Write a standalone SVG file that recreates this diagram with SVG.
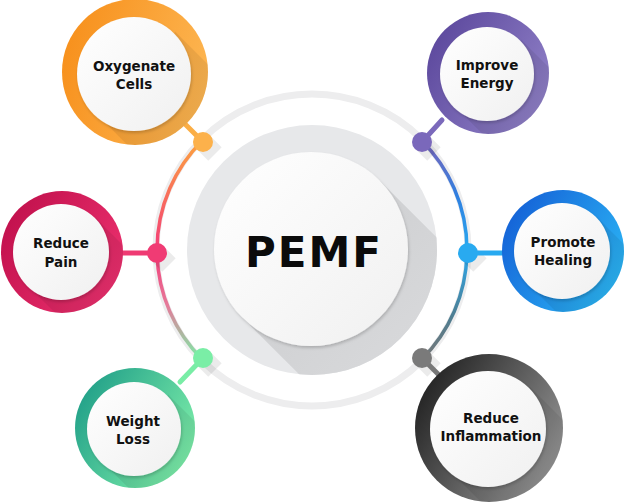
<svg xmlns="http://www.w3.org/2000/svg" width="624" height="503" viewBox="0 0 624 503">
<style>
.lbl{font-family:"DejaVu Sans","Liberation Sans",sans-serif;font-weight:bold;font-size:13.5px;fill:#111;text-anchor:middle}
.big{font-family:"DejaVu Sans","Liberation Sans",sans-serif;font-weight:bold;font-size:42px;fill:#0b0b0b;text-anchor:middle;letter-spacing:2px}
.inner{fill:url(#gWhite);filter:url(#ds)}
.band{fill:#000;opacity:0.07}
.conn{stroke-width:5;stroke-linecap:round;fill:none}
.dsh{stroke:#000;stroke-opacity:0.08;stroke-width:19}
</style>
<defs>
<filter id="ds" x="-20%" y="-20%" width="140%" height="140%"><feDropShadow dx="1" dy="2" stdDeviation="1.5" flood-color="#000" flood-opacity="0.18"/></filter>
<linearGradient id="gWhite" x1="0" y1="0" x2="1" y2="1"><stop offset="0" stop-color="#ffffff"/><stop offset="1" stop-color="#f0f0f0"/></linearGradient>
<linearGradient id="gOrange" x1="0" y1="0.3" x2="1" y2="0.6"><stop offset="0" stop-color="#f7901c"/><stop offset="1" stop-color="#fdb652"/></linearGradient>
<linearGradient id="gPurple" x1="0" y1="0.2" x2="1" y2="0.8"><stop offset="0" stop-color="#5b479c"/><stop offset="1" stop-color="#9283c9"/></linearGradient>
<linearGradient id="gPink" x1="0" y1="0.2" x2="1" y2="0.8"><stop offset="0" stop-color="#c0104c"/><stop offset="1" stop-color="#ee3270"/></linearGradient>
<linearGradient id="gBlue" x1="0" y1="0.2" x2="1" y2="0.8"><stop offset="0" stop-color="#145fd6"/><stop offset="1" stop-color="#2cbaf7"/></linearGradient>
<linearGradient id="gGreen" x1="0" y1="0.2" x2="1" y2="0.8"><stop offset="0" stop-color="#1f9e88"/><stop offset="1" stop-color="#82f2ab"/></linearGradient>
<linearGradient id="gGray" x1="0" y1="0.2" x2="1" y2="0.8"><stop offset="0" stop-color="#1e1e1e"/><stop offset="1" stop-color="#9b9b9b"/></linearGradient>
<linearGradient id="gLeftArc" gradientUnits="userSpaceOnUse" x1="0" y1="141" x2="0" y2="360"><stop offset="0" stop-color="#fca13f"/><stop offset="0.5" stop-color="#f43b78"/><stop offset="0.75" stop-color="#e57a9a"/><stop offset="1" stop-color="#7aeea6"/></linearGradient>
<linearGradient id="gRightArc" gradientUnits="userSpaceOnUse" x1="0" y1="141" x2="0" y2="360"><stop offset="0" stop-color="#7a66ba"/><stop offset="0.25" stop-color="#2f7fe0"/><stop offset="0.5" stop-color="#2aa9ef"/><stop offset="0.8" stop-color="#4e7e92"/><stop offset="1" stop-color="#777"/></linearGradient>
<linearGradient id="gShadow" x1="0" y1="0" x2="1" y2="1"><stop offset="0" stop-color="#c9cacc"/><stop offset="1" stop-color="#e6e7e9"/></linearGradient>
<clipPath id="cHub"><circle cx="312" cy="250" r="125"/></clipPath>
<clipPath id="c1"><circle cx="135" cy="72" r="73"/></clipPath>
<clipPath id="c2"><circle cx="488" cy="73" r="61"/></clipPath>
<clipPath id="c3"><circle cx="62" cy="252" r="61"/></clipPath>
<clipPath id="c4"><circle cx="563" cy="251" r="61"/></clipPath>
<clipPath id="c5"><circle cx="135" cy="428" r="60"/></clipPath>
<clipPath id="c6"><circle cx="489" cy="428" r="74"/></clipPath>
</defs>
<rect width="624" height="503" fill="#fff"/>

<g id="hub">
<circle cx="312" cy="250" r="156" fill="none" stroke="#ededee" stroke-width="7"/>
<circle cx="312" cy="250" r="125" fill="#e7e8ea"/>
<polygon clip-path="url(#cHub)" points="379.6,180.4 242.4,317.6 442.4,517.6 579.6,380.4" fill="url(#gShadow)"/>
<circle cx="311" cy="249" r="97" class="inner"/>
<text x="314" y="267" class="big">PEMF</text>
</g>

<g id="connectors">
<path d="M202.4,140.4 A155,155 0 0 0 202.4,359.6" fill="none" stroke="url(#gLeftArc)" stroke-width="3.5"/>
<path d="M421.6,140.4 A155,155 0 0 1 421.6,359.6" fill="none" stroke="url(#gRightArc)" stroke-width="3.5"/>
<line x1="203" y1="142" x2="215" y2="154" class="dsh"/>
<line x1="422" y1="142" x2="434" y2="154" class="dsh"/>
<line x1="157" y1="253" x2="169" y2="265" class="dsh"/>
<line x1="468" y1="253" x2="480" y2="265" class="dsh"/>
<line x1="203" y1="358" x2="215" y2="370" class="dsh"/>
<line x1="422" y1="358" x2="434" y2="370" class="dsh"/>
<line x1="203" y1="142" x2="185" y2="124" class="conn" stroke="#fbae45"/>
<line x1="422" y1="142" x2="442" y2="120" class="conn" stroke="#7b69bb"/>
<line x1="157" y1="253" x2="120" y2="253" class="conn" stroke="#ef3a73"/>
<line x1="468" y1="253" x2="505" y2="253" class="conn" stroke="#28a9f0"/>
<line x1="203" y1="358" x2="180" y2="382" class="conn" stroke="#79eda6"/>
<line x1="422" y1="358" x2="440" y2="376" class="conn" stroke="#777"/>
<circle cx="203" cy="142" r="10" fill="#fcb14b"/>
<circle cx="422" cy="142" r="10" fill="#7a68bb"/>
<circle cx="157" cy="253" r="10" fill="#f03b74"/>
<circle cx="468" cy="253" r="10" fill="#29aaf0"/>
<circle cx="203" cy="358" r="10" fill="#7aeea6"/>
<circle cx="422" cy="358" r="10" fill="#7a7a7a"/>
</g>

<g id="node-oxygenate">
<circle cx="135" cy="72" r="73" fill="url(#gOrange)"/>
<polygon clip-path="url(#c1)" class="band" points="175.3,31.7 94.7,112.3 194.7,212.3 275.3,131.7"/>
<circle cx="134" cy="74" r="57" class="inner"/>
<text x="134" y="71" class="lbl">Oxygenate</text>
<text x="134" y="89" class="lbl">Cells</text>
</g>

<g id="node-energy">
<circle cx="488" cy="73" r="61" fill="url(#gPurple)"/>
<polygon clip-path="url(#c2)" class="band" points="521.2,39.8 454.8,106.2 554.8,206.2 621.2,139.8"/>
<circle cx="487" cy="74" r="47" class="inner"/>
<text x="487" y="70" class="lbl">Improve</text>
<text x="487" y="88" class="lbl">Energy</text>
</g>

<g id="node-pain">
<circle cx="62" cy="252" r="61" fill="url(#gPink)"/>
<polygon clip-path="url(#c3)" class="band" points="95.9,218.1 28.1,285.9 128.1,385.9 195.9,318.1"/>
<circle cx="61" cy="252" r="48" class="inner"/>
<text x="61" y="248" class="lbl">Reduce</text>
<text x="61" y="267" class="lbl">Pain</text>
</g>

<g id="node-healing">
<circle cx="563" cy="251" r="61" fill="url(#gBlue)"/>
<polygon clip-path="url(#c4)" class="band" points="596.9,217.1 529.1,284.9 629.1,384.9 696.9,317.1"/>
<circle cx="562" cy="251" r="48" class="inner"/>
<text x="563" y="247" class="lbl">Promote</text>
<text x="563" y="265" class="lbl">Healing</text>
</g>

<g id="node-weight">
<circle cx="135" cy="428" r="60" fill="url(#gGreen)"/>
<polygon clip-path="url(#c5)" class="band" points="168.2,394.8 101.8,461.2 201.8,561.2 268.2,494.8"/>
<circle cx="134" cy="429" r="47" class="inner"/>
<text x="133" y="426" class="lbl">Weight</text>
<text x="133" y="444" class="lbl">Loss</text>
</g>

<g id="node-inflammation">
<circle cx="489" cy="428" r="74" fill="url(#gGray)"/>
<polygon clip-path="url(#c6)" class="band" points="530,387 448,469 548,569 630,487"/>
<circle cx="488" cy="429" r="58" class="inner"/>
<text x="491" y="423" class="lbl">Reduce</text>
<text x="491" y="441" class="lbl">Inflammation</text>
</g>
</svg>
